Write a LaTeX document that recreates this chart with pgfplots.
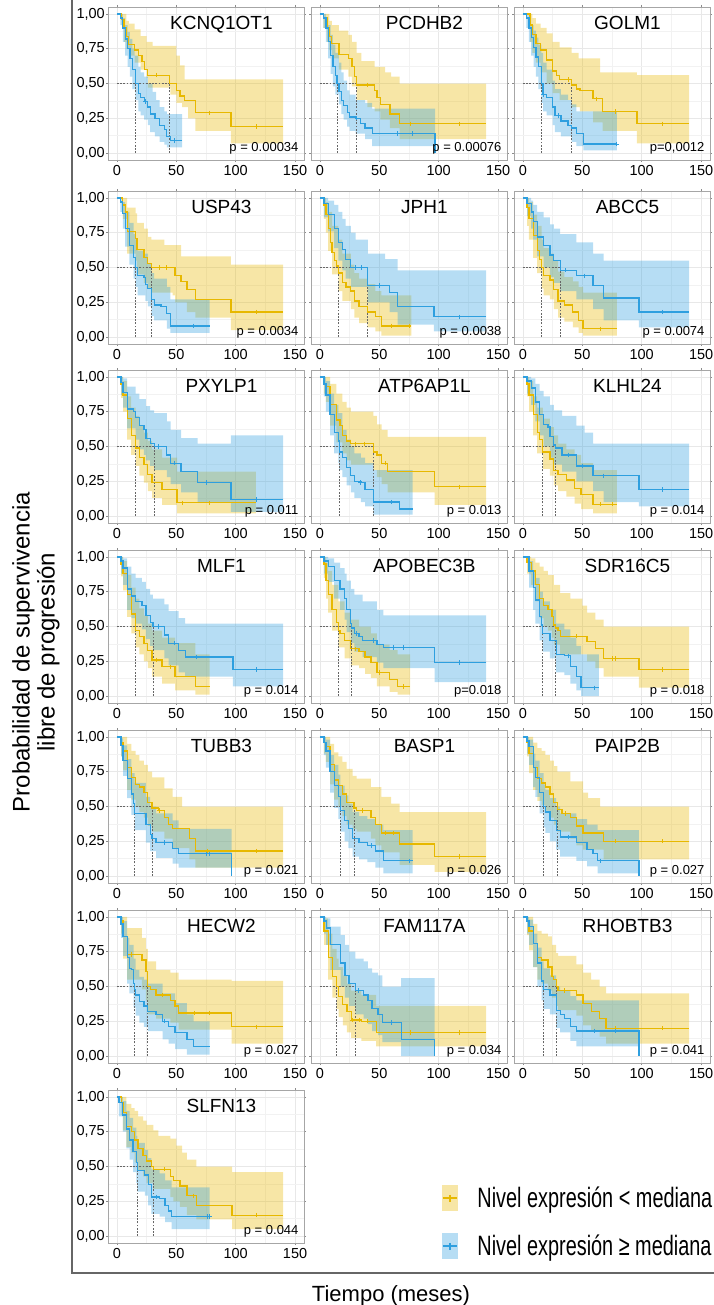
\documentclass[border=0pt]{standalone}
\usepackage{pgfplots}
\pgfplotsset{compat=1.18}
\usepackage{fontspec}
\setmainfont{Liberation Sans}
\newfontfamily\legfont{Liberation Sans}[FakeStretch=0.71]
\definecolor{ycol}{HTML}{E7B800}
\definecolor{bcol}{HTML}{2E9FDF}
\newcommand\ticksize{\fontsize{14.5bp}{16bp}\selectfont}
\newcommand\ttlsize{\fontsize{19bp}{22bp}\selectfont}
\newcommand\pvsize{\fontsize{13bp}{15bp}\selectfont}
\pgfplotsset{
 km/.style={scale only axis, width=196bp, height=153bp, anchor=north west,
  xmin=-7.5, xmax=157.5, ymin=-0.05, ymax=1.05,
  xtick={0,50,100,150}, xticklabels={0,50,100,150},
  ytick={0,0.25,0.5,0.75,1},
  minor xtick={25,75,125}, minor ytick={0.125,0.375,0.625,0.875},
  grid=both, major grid style={draw=black!9, line width=0.6bp},
  minor grid style={draw=black!5, line width=0.4bp},
  axis line style={draw=black!35, line width=0.8bp},
  tick align=outside, major tick length=2bp, minor tick length=0pt,
  tick style={draw=black!45, line width=0.6bp},
  tick label style={font=\ticksize},
  yticklabel style={inner sep=1bp},
  xticklabel style={inner sep=1bp, yshift=-2bp}},
 kml/.style={km, yticklabels={{0,00},{0,25},{0,50},{0,75},{1,00}}},
 kmn/.style={km, yticklabels={}},
 ycurve/.style={const plot, color=ycol, line width=1.3bp, forget plot},
 bcurve/.style={const plot, color=bcol, line width=1.3bp, forget plot},
 ymk/.style={only marks, mark=+, mark size=2.2bp, color=ycol, line width=0.7bp, forget plot},
 bmk/.style={only marks, mark=+, mark size=2.2bp, color=bcol, line width=0.7bp, forget plot},
 medl/.style={color=black!60, line width=0.6bp, dash pattern=on 1.8bp off 1.4bp, forget plot},
}
\makeatletter
% band: upper step list forward, lower step list backward, as one filled polygon
\newcommand\band[4]{%
  \gdef\km@poly{}\gdef\km@low{}%
  \km@up#3\km@end
  \km@lo#4\km@end
  \edef\km@tmp{\noexpand\addplot[fill=#2, fill opacity=0.35, draw=none, forget plot] coordinates {\km@poly\km@low};}%
  \km@tmp}
\def\km@up(#1,#2){\xdef\km@poly{\km@poly(#1,#2)}\gdef\km@py{#2}\km@uploop}
\def\km@uploop{\@ifnextchar(\km@upstep\km@stop}
\def\km@upstep(#1,#2){\xdef\km@poly{\km@poly(#1,\km@py)(#1,#2)}\gdef\km@py{#2}\km@uploop}
\def\km@stop\km@end{}
\def\km@lo(#1,#2){\xdef\km@low{(#1,#2)\km@low}\gdef\km@py{#2}\km@loloop}
\def\km@loloop{\@ifnextchar(\km@lostep\km@stop}
\def\km@lostep(#1,#2){\xdef\km@low{(#1,#2)(#1,\km@py)\km@low}\gdef\km@py{#2}\km@loloop}
\makeatother
\newcommand\med[2]{%
 \addplot[medl] coordinates {(0,0.5)(#2,0.5)};
 \addplot[medl] coordinates {(#1,0)(#1,0.5)};
 \addplot[medl] coordinates {(#2,0)(#2,0.5)};}
\newcommand\ttl[1]{\node[font=\ttlsize, anchor=base] at (axis cs:88,0.885) {#1};}
\newcommand\pv[1]{\node[font=\pvsize, anchor=base east, inner sep=0pt] at (axis cs:153,0.012) {#1};}
\begin{document}
\begin{tikzpicture}
\useasboundingbox (0,0) rectangle (714bp,-1305bp);
\draw[black!60, line width=1.5bp] (72bp,0) -- (72bp,-1273bp) -- (714bp,-1273bp);
\node[font=\fontsize{24bp}{25bp}\selectfont, rotate=90, align=center] at (36bp,-652bp) {Probabilidad de supervivencia\\libre de progresión};
\node[font=\fontsize{22bp}{24bp}\selectfont, anchor=base] at (391bp,-1301bp) {Tiempo (meses)};

% 1 KCNQ1OT1
\begin{axis}[kml, at={(108bp,-7bp)}]
\band{y}{ycol}{(0,1)(6,1)(8,0.95)(10,0.93)(15,0.89)(20,0.84)(25,0.8)(30,0.77)(50,0.7)(53,0.63)(57,0.53)(140,0.53)}{(0,1)(4,0.92)(6,0.8)(8,0.75)(10,0.7)(15,0.65)(20,0.6)(25,0.54)(26,0.47)(45,0.42)(50,0.36)(55,0.33)(60,0.25)(66,0.16)(96,0.07)(140,0.07)}
\band{b}{bcol}{(0,1)(5,0.97)(7,0.92)(9,0.87)(11,0.82)(13,0.75)(15,0.7)(18,0.62)(20,0.58)(23,0.55)(26,0.5)(30,0.44)(33,0.38)(36,0.33)(40,0.3)(42,0.28)(55,0.28)}{(0,1)(3,0.92)(5,0.8)(7,0.7)(9,0.62)(11,0.55)(13,0.46)(15.5,0.38)(18,0.3)(20,0.27)(23,0.24)(26,0.2)(28,0.15)(32,0.12)(36,0.08)(40,0.06)(42,0.04)(55,0.04)}
\med{15.5}{44.5}
\addplot[ycurve] coordinates {(0,1)(4,0.96)(6,0.9)(8,0.84)(10,0.78)(15,0.74)(18,0.7)(21,0.66)(23,0.6)(26,0.56)(44.5,0.5)(50,0.45)(53,0.41)(57,0.38)(66,0.29)(96,0.19)(140,0.19)};
\addplot[bcurve] coordinates {(0,1)(3,0.97)(5,0.9)(7,0.82)(9,0.75)(11,0.68)(13,0.6)(15.5,0.5)(18,0.43)(20,0.4)(23,0.37)(26,0.33)(28,0.28)(32,0.25)(36,0.2)(40,0.17)(42,0.12)(45,0.09)(55,0.09)};
\addplot[ymk] coordinates {(33,0.56)(78,0.29)(117,0.19)};
\addplot[bmk] coordinates {(24,0.37)(48,0.09)};
\ttl{KCNQ1OT1}\pv{p = 0.00034}
\end{axis}

% 2 PCDHB2
\begin{axis}[kmn, at={(311bp,-7bp)}]
\band{y}{ycol}{(0,1)(6,1)(8,0.95)(10,0.92)(16,0.88)(24,0.85)(27,0.8)(31,0.72)(35,0.66)(46,0.62)(55,0.58)(60,0.55)(67,0.5)(140,0.5)}{(0,1)(3,0.9)(6,0.8)(8,0.74)(10,0.68)(16,0.6)(24,0.55)(27,0.48)(31,0.38)(40,0.33)(46,0.3)(51,0.24)(59,0.18)(67,0.1)(140,0.1)}
\band{b}{bcol}{(0,1)(5,0.97)(7,0.92)(9,0.85)(11,0.78)(13,0.72)(16,0.65)(18,0.58)(20,0.52)(23,0.45)(25,0.42)(30,0.38)(38,0.36)(44,0.32)(97,0.32)}{(0,1)(3,0.9)(5,0.8)(7,0.68)(9,0.57)(11,0.48)(13,0.42)(16,0.35)(18,0.28)(20,0.24)(23,0.19)(25,0.16)(30,0.14)(38,0.1)(44,0.05)(97,0)}
\med{14.3}{31}
\addplot[ycurve] coordinates {(0,1)(3,0.97)(6,0.9)(8,0.84)(10,0.79)(16,0.71)(24,0.68)(27,0.62)(29,0.55)(31,0.49)(46,0.45)(48,0.4)(51,0.35)(59,0.28)(67,0.21)(140,0.21)};
\addplot[bcurve] coordinates {(0,1)(3,0.97)(5,0.9)(7,0.8)(9,0.7)(11,0.62)(13,0.56)(14.3,0.5)(16,0.44)(18,0.38)(20,0.34)(23,0.29)(25,0.26)(30,0.25)(34,0.21)(38,0.18)(44,0.14)(96,0.14)(97,0)};
\addplot[ymk] coordinates {(40,0.49)(76,0.21)(117,0.21)};
\addplot[bmk] coordinates {(31,0.25)(65,0.14)(78,0.14)};
\ttl{PCDHB2}\pv{p = 0.00076}
\end{axis}

% 3 GOLM1
\begin{axis}[kmn, at={(514bp,-7bp)}]
\band{y}{ycol}{(0,1)(8,0.97)(11,0.93)(15,0.9)(20,0.86)(25,0.8)(31,0.76)(41,0.72)(47,0.68)(65,0.58)(96,0.56)(140,0.56)}{(0,1)(6,0.8)(8,0.72)(11,0.65)(15,0.58)(20,0.5)(25,0.43)(31,0.38)(41,0.33)(48,0.3)(59,0.22)(67,0.16)(96,0.07)(140,0.07)}
\band{b}{bcol}{(0,1)(5,0.97)(7,0.92)(9,0.88)(11,0.83)(13,0.78)(15.6,0.72)(17,0.65)(20,0.6)(25,0.52)(27,0.46)(32,0.42)(38,0.38)(41,0.35)(45,0.3)(79,0.3)}{(0,1)(3,0.9)(5,0.8)(7,0.7)(9,0.62)(11,0.55)(13,0.46)(15.6,0.36)(17,0.3)(20,0.27)(25,0.2)(27,0.15)(32,0.12)(41,0.08)(45,0.05)(51,0.02)(79,0.02)}
\med{15.6}{41}
\addplot[ycurve] coordinates {(0,1)(5,1)(6,0.92)(8,0.85)(11,0.79)(15,0.74)(20,0.67)(25,0.59)(28,0.56)(31,0.53)(41,0.49)(45,0.46)(48,0.45)(59,0.39)(67,0.3)(96,0.21)(140,0.21)};
\addplot[bcurve] coordinates {(0,1)(3,0.97)(5,0.9)(7,0.83)(9,0.76)(11,0.69)(13,0.62)(15.6,0.5)(17,0.42)(20,0.4)(25,0.33)(27,0.27)(32,0.23)(38,0.2)(41,0.18)(45,0.14)(51,0.065)(79,0.065)};
\addplot[ymk] coordinates {(38,0.53)(62,0.39)(78,0.3)(117,0.21)};
\addplot[bmk] coordinates {(17,0.42)(30,0.27)(79,0.065)};
\ttl{GOLM1}\pv{p=0,0012}
\end{axis}

% 4 USP43
\begin{axis}[kml, at={(108bp,-191bp)}]
\band{y}{ycol}{(0,1)(7,1)(8.7,0.93)(15.7,0.89)(17,0.82)(22.7,0.78)(26,0.72)(29,0.7)(40,0.66)(54,0.58)(96,0.52)(140,0.52)}{(0,1)(5,0.85)(8.7,0.6)(15.7,0.55)(17,0.45)(22.7,0.39)(26,0.35)(29,0.32)(47,0.3)(49,0.25)(59,0.18)(66,0.14)(96,0.05)(140,0.05)}
\band{b}{bcol}{(0,1)(5,0.97)(7,0.9)(10.5,0.82)(14,0.74)(15.7,0.7)(17.4,0.62)(22.7,0.6)(26,0.53)(29,0.46)(31.4,0.42)(42,0.36)(45,0.27)(78,0.27)}{(0,1)(3,0.9)(5,0.78)(7,0.65)(10.5,0.52)(14,0.42)(15.7,0.36)(17.4,0.3)(24,0.26)(26,0.22)(29,0.15)(31.4,0.12)(42,0.06)(45,0.03)(78,0.03)}
\med{15.7}{29}
\addplot[ycurve] coordinates {(0,1)(5,0.95)(7,0.9)(8.7,0.76)(15.7,0.71)(17,0.63)(22.7,0.57)(26,0.53)(29,0.5)(47,0.5)(49,0.44)(54,0.4)(59,0.34)(66,0.27)(96,0.18)(140,0.18)};
\addplot[bcurve] coordinates {(0,1)(3,0.97)(5,0.89)(7,0.78)(10.5,0.66)(14,0.57)(15.7,0.5)(17.4,0.44)(22.7,0.43)(24,0.38)(26,0.35)(29,0.27)(31.4,0.23)(37,0.22)(42,0.17)(45,0.08)(78,0.08)};
\addplot[ymk] coordinates {(36,0.5)(42,0.5)(117,0.18)};
\addplot[bmk] coordinates {(64,0.08)};
\ttl{USP43}\pv{p = 0.0034}
\end{axis}

% 5 JPH1
\begin{axis}[kmn, at={(311bp,-191bp)}]
\band{y}{ycol}{(0,1)(5,0.97)(7,0.9)(10.3,0.8)(15.5,0.7)(19,0.6)(26,0.52)(29,0.46)(33,0.42)(40,0.38)(46.6,0.33)(51.7,0.3)(77,0.3)}{(0,1)(3.4,0.85)(5,0.75)(7,0.62)(10.3,0.45)(15.5,0.33)(19,0.26)(26,0.2)(29,0.14)(33,0.1)(40,0.07)(46.6,0.04)(51.7,0.01)(77,0.01)}
\band{b}{bcol}{(0,1)(7,0.98)(12,0.95)(15.5,0.9)(19,0.85)(21.7,0.8)(26,0.75)(30,0.7)(40.3,0.6)(55,0.56)(65.5,0.48)(140,0.48)}{(0,1)(3.4,0.86)(7,0.76)(12,0.64)(15.5,0.55)(19,0.48)(21.7,0.42)(26,0.36)(40.3,0.25)(58.6,0.18)(65.5,0.09)(96,0.04)(140,0.04)}
\med{15.5}{40.3}
\addplot[ycurve] coordinates {(0,1)(3.4,0.95)(5,0.88)(7,0.78)(9,0.68)(10.3,0.61)(12,0.55)(14,0.51)(15.5,0.46)(19,0.39)(22,0.36)(26,0.33)(29,0.26)(33,0.22)(40,0.18)(46.6,0.15)(51.7,0.08)(77,0.08)};
\addplot[bcurve] coordinates {(0,1)(3.4,0.96)(7,0.88)(12,0.78)(15.5,0.68)(19,0.63)(21.7,0.56)(26,0.5)(40.3,0.37)(58.6,0.32)(65.5,0.22)(96,0.146)(140,0.146)};
\addplot[ymk] coordinates {(60,0.08)(75,0.08)};
\addplot[bmk] coordinates {(30,0.5)(35,0.5)(50,0.37)(117,0.146)};
\ttl{JPH1}\pv{p = 0.0038}
\end{axis}

% 6 ABCC5
\begin{axis}[kmn, at={(514bp,-191bp)}]
\band{y}{ycol}{(0,1)(5,0.97)(8.7,0.88)(12,0.8)(15.7,0.7)(17.4,0.64)(22.7,0.6)(26,0.55)(29.6,0.47)(35,0.43)(42,0.4)(47,0.36)(50.6,0.32)(79,0.32)}{(0,1)(3.5,0.8)(5,0.7)(8.7,0.57)(12,0.46)(15.7,0.35)(17.4,0.3)(22.7,0.27)(26,0.2)(29.6,0.14)(35,0.11)(42,0.07)(47,0.03)(50.6,0.01)(79,0.01)}
\band{b}{bcol}{(0,1)(7,0.98)(8.7,0.95)(12,0.9)(17.4,0.86)(22.7,0.81)(26,0.78)(31.4,0.74)(45,0.68)(59,0.6)(68,0.55)(140,0.55)}{(0,1)(3.5,0.87)(7,0.78)(8.7,0.7)(12,0.58)(17.4,0.5)(22.7,0.43)(26,0.39)(31.4,0.33)(45,0.27)(59,0.2)(68,0.12)(97.7,0.07)(140,0.07)}
\med{15.7}{31.4}
\addplot[ycurve] coordinates {(0,1)(3.5,0.93)(5,0.85)(8.7,0.73)(12,0.62)(14,0.56)(15.7,0.5)(17.4,0.44)(22.7,0.41)(26,0.34)(29.6,0.26)(35,0.23)(42,0.18)(47,0.12)(50.6,0.06)(79,0.06)};
\addplot[bcurve] coordinates {(0,1)(3.5,0.96)(7,0.9)(8.7,0.83)(12,0.72)(17.4,0.66)(22.7,0.59)(26,0.55)(31.4,0.48)(45,0.44)(59,0.37)(68,0.28)(97.7,0.18)(140,0.18)};
\addplot[ymk] coordinates {(65,0.06)};
\addplot[bmk] coordinates {(36,0.48)(52,0.44)(117,0.18)};
\ttl{ABCC5}\pv{p = 0.0074}
\end{axis}

% 7 PXYLP1
\begin{axis}[kml, at={(108bp,-370bp)}]
\band{y}{ycol}{(0,1)(5.2,0.97)(8.7,0.86)(12,0.78)(15.7,0.72)(19,0.65)(22.7,0.6)(26,0.54)(29.6,0.48)(38,0.42)(50.6,0.32)(117,0.32)}{(0,1)(3.5,0.85)(5.2,0.75)(8.7,0.55)(12,0.44)(15.7,0.36)(19,0.29)(22.7,0.24)(26,0.18)(29.6,0.13)(38,0.08)(50.6,0.02)(117,0.02)}
\band{b}{bcol}{(0,1)(5.2,0.99)(8.7,0.93)(15.7,0.88)(19,0.84)(24.4,0.79)(28,0.76)(31.4,0.74)(42,0.68)(45.3,0.62)(54,0.56)(68,0.52)(96,0.58)(140,0.58)}{(0,1)(3.5,0.87)(5.2,0.78)(8.7,0.63)(15.7,0.55)(19,0.48)(22.7,0.44)(24.4,0.4)(28,0.36)(31.4,0.33)(42,0.28)(45.3,0.23)(54,0.17)(68,0.1)(96,0.03)(140,0.03)}
\med{15.7}{31.4}
\addplot[ycurve] coordinates {(0,1)(3.5,0.95)(5.2,0.87)(8.7,0.7)(12,0.58)(15.7,0.49)(19,0.42)(22.7,0.37)(26,0.3)(29.6,0.24)(38,0.19)(50.6,0.095)(117,0.095)};
\addplot[bcurve] coordinates {(0,1)(3.5,0.96)(5.2,0.89)(8.7,0.77)(14,0.75)(15.7,0.71)(19,0.65)(22.7,0.62)(24.4,0.56)(28,0.52)(31.4,0.5)(42,0.44)(45.3,0.38)(54,0.32)(68,0.24)(96,0.12)(140,0.12)};
\addplot[ymk] coordinates {(55,0.095)(78,0.095)};
\addplot[bmk] coordinates {(35,0.5)(48,0.38)(75,0.24)(117,0.12)};
\ttl{PXYLP1}\pv{p = 0.011}
\end{axis}

% 8 ATP6AP1L
\begin{axis}[kmn, at={(311bp,-370bp)}]
\band{y}{ycol}{(0,1)(5,1)(8.6,0.95)(13.8,0.88)(19,0.82)(22.4,0.78)(26,0.75)(45,0.72)(48,0.66)(52,0.62)(57,0.57)(140,0.57)}{(0,1)(3.4,0.88)(5,0.82)(8.6,0.65)(13.8,0.53)(19,0.45)(22.4,0.4)(26,0.37)(45,0.33)(48,0.28)(52,0.23)(57,0.17)(96.5,0.08)(140,0.08)}
\band{b}{bcol}{(0,1)(5,0.97)(8.6,0.88)(12,0.8)(15.5,0.74)(19,0.62)(22.4,0.55)(26,0.5)(29,0.45)(34.5,0.42)(38,0.38)(45,0.33)(78,0.33)}{(0,1)(3.4,0.86)(5,0.75)(8.6,0.58)(12,0.45)(15.5,0.38)(16.2,0.33)(19,0.28)(22.4,0.22)(26,0.17)(29,0.13)(34.5,0.1)(38,0.07)(45,0.01)(78,0.01)}
\med{16.2}{45}
\addplot[ycurve] coordinates {(0,1)(3.4,0.95)(5,0.93)(8.6,0.8)(13.8,0.69)(17,0.65)(19,0.58)(22.4,0.54)(26,0.52)(45,0.46)(48,0.44)(52,0.38)(57,0.32)(96.5,0.21)(140,0.21)};
\addplot[bcurve] coordinates {(0,1)(3.4,0.95)(5,0.87)(8.6,0.73)(12,0.6)(15.5,0.54)(16.2,0.46)(19,0.42)(22.4,0.35)(26,0.29)(29,0.25)(34.5,0.24)(38,0.19)(45,0.1)(67,0.05)(78,0.05)};
\addplot[ymk] coordinates {(30,0.52)(37,0.52)(55,0.38)(117,0.21)};
\addplot[bmk] coordinates {(34,0.24)(60,0.1)};
\ttl{ATP6AP1L}\pv{p = 0.013}
\end{axis}

% 9 KLHL24
\begin{axis}[kmn, at={(514bp,-370bp)}]
\band{y}{ycol}{(0,1)(5.2,0.97)(8.7,0.86)(12,0.78)(16.7,0.7)(22.7,0.64)(26,0.58)(29.6,0.52)(36.6,0.48)(43.6,0.44)(49,0.38)(59,0.33)(79,0.33)}{(0,1)(3.5,0.86)(5.2,0.75)(8.7,0.58)(12,0.45)(16.7,0.34)(22.7,0.29)(26,0.22)(29.6,0.18)(36.6,0.14)(43.6,0.09)(49,0.05)(59,0.02)(79,0.02)}
\band{b}{bcol}{(0,1)(7,0.99)(10.5,0.95)(14,0.9)(17.4,0.86)(22.7,0.8)(26,0.76)(33,0.72)(45,0.65)(52,0.6)(59,0.52)(140,0.52)}{(0,1)(3.5,0.88)(7,0.8)(10.5,0.68)(14,0.58)(17.4,0.5)(22.7,0.42)(26,0.37)(33,0.32)(45,0.25)(59,0.18)(68,0.1)(97.7,0.07)(140,0.07)}
\med{16.7}{27.2}
\addplot[ycurve] coordinates {(0,1)(3.5,0.95)(5.2,0.87)(8.7,0.73)(12,0.6)(14,0.55)(16.7,0.46)(22.7,0.41)(26,0.33)(29.6,0.3)(36.6,0.26)(43.6,0.2)(49,0.155)(59,0.085)(79,0.085)};
\addplot[bcurve] coordinates {(0,1)(3.5,0.97)(7,0.92)(10.5,0.82)(14,0.73)(17.4,0.66)(21,0.64)(22.7,0.57)(26,0.51)(27.2,0.49)(33,0.44)(45,0.36)(59,0.29)(97.7,0.19)(140,0.19)};
\addplot[ymk] coordinates {(65,0.085)(75,0.085)};
\addplot[bmk] coordinates {(38,0.44)(50,0.36)(68,0.29)(117,0.19)};
\ttl{KLHL24}\pv{p = 0.014}
\end{axis}

% 10 MLF1
\begin{axis}[kml, at={(108bp,-550bp)}]
\band{y}{ycol}{(0,1)(5.2,0.97)(8.7,0.87)(12.2,0.78)(15.7,0.7)(19,0.63)(22.7,0.58)(26,0.52)(29.6,0.47)(38,0.42)(49,0.38)(66,0.3)(78,0.3)}{(0,1)(3.5,0.86)(5.2,0.76)(8.7,0.57)(12.2,0.45)(15.7,0.35)(19,0.3)(22.7,0.25)(26,0.2)(29.6,0.14)(38,0.09)(49,0.04)(66,0.01)(78,0.01)}
\band{b}{bcol}{(0,1)(5.2,0.99)(8.7,0.93)(12.2,0.88)(15.7,0.85)(21,0.82)(24.4,0.77)(28,0.73)(30.3,0.7)(40,0.66)(43.6,0.61)(52,0.56)(57.5,0.52)(140,0.52)}{(0,1)(3.5,0.88)(5.2,0.8)(8.7,0.62)(12.2,0.56)(15.7,0.52)(21,0.48)(24.4,0.41)(28,0.36)(30.3,0.33)(40,0.27)(43.6,0.22)(52,0.17)(57.5,0.14)(97.7,0.07)(140,0.07)}
\med{15.7}{30.3}
\addplot[ycurve] coordinates {(0,1)(3.5,0.95)(5.2,0.88)(8.7,0.73)(12.2,0.59)(15.7,0.47)(19,0.43)(22.7,0.38)(26,0.33)(29.6,0.26)(38,0.21)(49,0.14)(66,0.07)(78,0.07)};
\addplot[bcurve] coordinates {(0,1)(3.5,0.97)(5.2,0.92)(8.7,0.77)(12.2,0.72)(15.7,0.68)(21,0.65)(24.4,0.58)(28,0.53)(30.3,0.5)(40,0.44)(43.6,0.38)(52,0.33)(57.5,0.28)(97.7,0.19)(140,0.19)};
\addplot[ymk] coordinates {(33,0.26)(45,0.21)};
\addplot[bmk] coordinates {(35,0.5)(48,0.38)(67,0.28)(117,0.19)};
\ttl{MLF1}\pv{p = 0.014}
\end{axis}

% 11 APOBEC3B
\begin{axis}[kmn, at={(311bp,-550bp)}]
\band{y}{ycol}{(0,1)(5.2,0.96)(7,0.9)(10.3,0.8)(15.5,0.68)(20.7,0.6)(26,0.55)(33,0.5)(43,0.45)(48,0.37)(58.6,0.33)(65.5,0.3)(76,0.3)}{(0,1)(3.4,0.85)(5.2,0.7)(7,0.6)(10.3,0.47)(15.5,0.35)(20.7,0.27)(26,0.22)(33,0.2)(38,0.16)(43,0.13)(48,0.07)(58.6,0.03)(65.5,0.01)(76,0.01)}
\band{b}{bcol}{(0,1)(7,0.99)(12,0.96)(17,0.92)(20.7,0.88)(22.4,0.83)(26,0.77)(29,0.73)(36,0.68)(48,0.62)(53.4,0.58)(140,0.58)}{(0,1)(3.4,0.88)(7,0.82)(12,0.7)(17,0.62)(20.7,0.55)(22.4,0.46)(26,0.38)(29,0.32)(36,0.28)(48,0.24)(53.4,0.2)(96.5,0.1)(140,0.1)}
\med{15.5}{26.6}
\addplot[ycurve] coordinates {(0,1)(3.4,0.95)(5.2,0.83)(7,0.73)(10.3,0.62)(13.8,0.53)(15.5,0.47)(17,0.45)(20.7,0.4)(26,0.34)(33,0.32)(38,0.28)(43,0.24)(48,0.17)(58.6,0.12)(65.5,0.07)(76,0.07)};
\addplot[bcurve] coordinates {(0,1)(3.4,0.97)(7,0.93)(12,0.83)(17,0.77)(20.7,0.7)(22.4,0.62)(26,0.52)(26.6,0.49)(29,0.45)(33,0.43)(36,0.4)(48,0.37)(53.4,0.35)(96.5,0.24)(140,0.24)};
\addplot[ymk] coordinates {(30,0.34)(50,0.17)(70,0.07)};
\addplot[bmk] coordinates {(31,0.45)(45,0.4)(62,0.35)(70,0.35)(117,0.24)};
\ttl{APOBEC3B}\pv{p=0.018}
\end{axis}

% 12 SDR16C5
\begin{axis}[kmn, at={(514bp,-550bp)}]
\band{y}{ycol}{(0,1)(7,0.99)(10.5,0.96)(14,0.93)(17.4,0.9)(21,0.87)(26,0.8)(31.4,0.74)(40,0.7)(50,0.65)(54,0.6)(61,0.55)(68,0.5)(140,0.5)}{(0,1)(3.5,0.88)(7,0.8)(10.5,0.68)(14,0.56)(17.4,0.5)(21,0.47)(24.4,0.42)(26,0.37)(31.4,0.3)(54,0.25)(61,0.2)(68,0.14)(97.7,0.06)(140,0.06)}
\band{b}{bcol}{(0,1)(5.2,0.97)(8.7,0.9)(10.5,0.85)(14,0.75)(16.7,0.68)(22.7,0.62)(28,0.52)(35,0.48)(40,0.42)(45,0.36)(49,0.3)(64,0.3)}{(0,1)(5.2,0.78)(8.7,0.62)(10.5,0.52)(14,0.4)(16.7,0.32)(22.7,0.27)(28,0.17)(35,0.15)(40,0.09)(45,0.04)(49,0)(64,0)}
\med{16.7}{27.2}
\addplot[ycurve] coordinates {(0,1)(3.5,0.96)(7,0.9)(10.5,0.8)(14,0.7)(17.4,0.65)(21,0.62)(24.4,0.57)(26,0.51)(27.2,0.49)(29.6,0.47)(31.4,0.43)(54,0.39)(61,0.34)(68,0.27)(97.7,0.19)(140,0.19)};
\addplot[bcurve] coordinates {(0,1)(5.2,0.9)(8.7,0.78)(10.5,0.69)(14,0.57)(15.7,0.51)(16.7,0.45)(22.7,0.4)(28,0.3)(35,0.29)(40,0.21)(45,0.14)(49,0.06)(64,0.06)};
\addplot[ymk] coordinates {(45,0.43)(75,0.27)(78,0.27)(117,0.19)};
\addplot[bmk] coordinates {(38,0.29)(60,0.06)};
\ttl{SDR16C5}\pv{p = 0.018}
\end{axis}

% 13 TUBB3
\begin{axis}[kml, at={(108bp,-730bp)}]
\band{y}{ycol}{(0,1)(5.2,1)(8.7,0.95)(12.2,0.9)(15.7,0.87)(19,0.83)(22.7,0.8)(26,0.75)(29.6,0.71)(40,0.63)(47,0.57)(55,0.5)(140,0.5)}{(0,1)(3.5,0.86)(5.2,0.76)(8.7,0.62)(12.2,0.55)(15.7,0.5)(19,0.46)(22.7,0.42)(26,0.36)(29.6,0.32)(40,0.27)(47,0.2)(61,0.12)(66,0.06)(140,0.06)}
\band{b}{bcol}{(0,1)(3.5,0.99)(5.2,0.94)(8.7,0.84)(12.2,0.74)(15,0.67)(24.4,0.57)(28,0.5)(33,0.45)(47,0.4)(52,0.34)(96.5,0.34)}{(0,1)(3.5,0.86)(5.2,0.72)(8.7,0.56)(12.2,0.44)(15,0.33)(24.4,0.24)(28,0.18)(33,0.13)(47,0.09)(52,0.06)(96,0.05)(96.5,0)}
\med{15}{29.6}
\addplot[ycurve] coordinates {(0,1)(3.5,0.96)(5.2,0.9)(8.7,0.78)(12.2,0.71)(15.7,0.66)(19,0.64)(22.7,0.6)(26,0.53)(29.6,0.49)(35,0.47)(40,0.42)(43.6,0.37)(47,0.34)(61,0.27)(66,0.18)(140,0.18)};
\addplot[bcurve] coordinates {(0,1)(3.5,0.94)(5.2,0.83)(8.7,0.7)(12.2,0.59)(14,0.52)(15,0.45)(24.4,0.37)(28,0.3)(29.6,0.27)(33,0.24)(47,0.2)(52,0.16)(96,0.16)(96.5,0)};
\addplot[ymk] coordinates {(36,0.47)(76,0.18)(117,0.18)};
\addplot[bmk] coordinates {(40,0.24)(75,0.16)(78,0.16)};
\ttl{TUBB3}\pv{p = 0.021}
\end{axis}

% 14 BASP1
\begin{axis}[kmn, at={(311bp,-730bp)}]
\band{y}{ycol}{(0,1)(5,1)(8.6,0.95)(12,0.89)(15.5,0.86)(19,0.82)(22.4,0.77)(27.6,0.72)(31,0.7)(43,0.64)(51.7,0.57)(60,0.52)(67,0.46)(140,0.46)}{(0,1)(3.4,0.88)(5,0.82)(8.6,0.66)(12,0.55)(15.5,0.5)(19,0.43)(22.4,0.37)(27.6,0.34)(31,0.32)(43,0.27)(46.6,0.22)(51.7,0.17)(67,0.08)(96.5,0.03)(140,0.03)}
\band{b}{bcol}{(0,1)(5,0.98)(8.6,0.87)(12,0.8)(15.5,0.73)(17.2,0.65)(20.7,0.58)(24,0.52)(27.6,0.46)(33,0.43)(40,0.41)(46.6,0.37)(53.4,0.33)(78,0.33)}{(0,1)(3.4,0.87)(5,0.78)(8.6,0.6)(12,0.49)(15.5,0.41)(17.2,0.32)(20.7,0.25)(24,0.2)(27.6,0.14)(33,0.12)(40,0.1)(46.6,0.06)(53.4,0.02)(78,0.02)}
\med{17.2}{28.6}
\addplot[ycurve] coordinates {(0,1)(3.4,0.96)(5,0.93)(8.6,0.8)(12,0.69)(15.5,0.65)(19,0.59)(22.4,0.53)(28.6,0.49)(31,0.47)(43,0.42)(46.6,0.37)(51.7,0.31)(67,0.23)(96.5,0.14)(140,0.14)};
\addplot[bcurve] coordinates {(0,1)(3.4,0.96)(5,0.9)(8.6,0.75)(12,0.65)(15.5,0.57)(17.2,0.47)(20.7,0.4)(24,0.34)(27.6,0.27)(33,0.24)(40,0.22)(46.6,0.18)(53.4,0.11)(78,0.11)};
\addplot[ymk] coordinates {(36,0.47)(55,0.31)(62,0.31)(117,0.14)};
\addplot[bmk] coordinates {(43,0.22)(75,0.11)};
\ttl{BASP1}\pv{p = 0.026}
\end{axis}

% 15 PAIP2B
\begin{axis}[kmn, at={(514bp,-730bp)}]
\band{y}{ycol}{(0,1)(5.2,1)(8.7,0.96)(12.2,0.92)(15.7,0.9)(19,0.87)(22.7,0.83)(26,0.79)(29,0.75)(40,0.68)(50.6,0.6)(55,0.56)(65,0.5)(140,0.5)}{(0,1)(3.5,0.86)(5.2,0.74)(8.7,0.62)(12.2,0.54)(15.7,0.51)(19,0.47)(22.7,0.42)(26,0.37)(29,0.32)(40,0.27)(45,0.22)(50.6,0.19)(68,0.12)(140,0.12)}
\band{b}{bcol}{(0,1)(5.2,0.98)(8.7,0.88)(10.5,0.83)(14,0.74)(17.4,0.66)(19,0.62)(22.7,0.56)(28,0.5)(31.4,0.45)(45,0.41)(54,0.37)(62.8,0.33)(97.7,0.33)}{(0,1)(3.5,0.88)(5.2,0.8)(8.7,0.64)(10.5,0.57)(14,0.45)(17.4,0.35)(19,0.31)(22.7,0.25)(28,0.19)(31.4,0.14)(45,0.11)(54,0.07)(62.8,0.02)(97.7,0)}
\med{17.4}{29}
\addplot[ycurve] coordinates {(0,1)(3.5,0.96)(5.2,0.88)(8.7,0.78)(12.2,0.7)(15.7,0.67)(19,0.64)(22.7,0.59)(26,0.53)(29,0.48)(33,0.45)(40,0.42)(45,0.36)(50.6,0.31)(68,0.25)(140,0.25)};
\addplot[bcurve] coordinates {(0,1)(3.5,0.97)(5.2,0.93)(8.7,0.78)(10.5,0.71)(14,0.6)(17.4,0.5)(19,0.46)(22.7,0.4)(28,0.33)(31.4,0.28)(45,0.24)(54,0.19)(59,0.16)(62.8,0.11)(97.5,0.11)(97.7,0)};
\addplot[ymk] coordinates {(36,0.45)(78,0.25)(117,0.25)};
\addplot[bmk] coordinates {(38,0.28)(65,0.11)};
\ttl{PAIP2B}\pv{p = 0.027}
\end{axis}

% 16 HECW2
\begin{axis}[kml, at={(108bp,-910bp)}]
\band{y}{ycol}{(0,1)(5.2,1)(8.7,0.92)(21,0.85)(24.4,0.77)(26,0.68)(33,0.62)(45,0.6)(52,0.55)(96.6,0.54)(140,0.54)}{(0,1)(3.5,0.88)(5.2,0.7)(8.7,0.55)(21,0.48)(24.4,0.4)(26,0.3)(33,0.27)(45,0.24)(52,0.19)(96.6,0.09)(140,0.09)}
\band{b}{bcol}{(0,1)(5.2,0.97)(8.7,0.85)(10.5,0.8)(14,0.7)(15.7,0.62)(19,0.57)(22.7,0.55)(26,0.52)(38.4,0.45)(49,0.38)(59,0.3)(64.5,0.25)(78,0.25)}{(0,1)(3.5,0.85)(5.2,0.72)(8.7,0.52)(10.5,0.45)(14,0.35)(15.7,0.29)(19,0.24)(22.7,0.21)(26,0.18)(38.4,0.12)(43.6,0.09)(49,0.05)(59,0.01)(78,0.01)}
\med{14.6}{26}
\addplot[ycurve] coordinates {(0,1)(3.5,0.97)(5.2,0.86)(8.7,0.73)(21,0.69)(24.4,0.61)(26,0.5)(28,0.48)(33,0.44)(45,0.4)(49,0.36)(52,0.31)(96.6,0.21)(140,0.21)};
\addplot[bcurve] coordinates {(0,1)(3.5,0.95)(5.2,0.86)(8.7,0.71)(10.5,0.63)(12.2,0.62)(14,0.52)(14.6,0.48)(15.7,0.44)(19,0.39)(22.7,0.36)(26,0.32)(33,0.3)(38.4,0.25)(43.6,0.21)(49,0.17)(59,0.12)(64.5,0.07)(78,0.07)};
\addplot[ymk] coordinates {(12,0.73)(38,0.44)(65,0.31)(78,0.31)(117,0.21)};
\addplot[bmk] coordinates {(40,0.25)};
\ttl{HECW2}\pv{p = 0.027}
\end{axis}

% 17 FAM117A
\begin{axis}[kmn, at={(311bp,-910bp)}]
\band{y}{ycol}{(0,1)(3.5,0.99)(7,0.88)(10.5,0.77)(14,0.7)(15.8,0.64)(19.3,0.58)(22.8,0.52)(26.3,0.47)(35,0.44)(47.4,0.36)(140,0.36)}{(0,1)(3.5,0.8)(7,0.55)(10.5,0.42)(14,0.34)(15.8,0.28)(19.3,0.22)(22.8,0.17)(26.3,0.13)(35,0.11)(47.4,0.07)(140,0.07)}
\band{b}{bcol}{(0,1)(5.3,0.99)(8.8,0.93)(17.5,0.87)(21,0.8)(24.6,0.75)(29.8,0.7)(36.8,0.68)(40.4,0.63)(43.9,0.6)(49,0.58)(52.6,0.5)(68.4,0.56)(96.6,0.56)}{(0,1)(3.5,0.88)(5.3,0.8)(8.8,0.62)(17.5,0.5)(21,0.42)(24.6,0.36)(29.8,0.3)(36.8,0.27)(40.4,0.23)(43.9,0.18)(49,0.15)(52.6,0.1)(68.4,0)(96.6,0)}
\med{14}{29.8}
\addplot[ycurve] coordinates {(0,1)(3.5,0.9)(7,0.71)(10.5,0.57)(14,0.5)(15.8,0.43)(19.3,0.37)(22.8,0.32)(26.3,0.26)(35,0.25)(47.4,0.17)(140,0.17)};
\addplot[bcurve] coordinates {(0,1)(3.5,0.97)(5.3,0.92)(8.8,0.8)(17.5,0.67)(21,0.58)(24.6,0.52)(29.8,0.47)(36.8,0.44)(40.4,0.4)(43.9,0.34)(49,0.3)(52.6,0.24)(68.4,0.12)(96.5,0.12)(96.6,0)};
\addplot[ymk] coordinates {(27,0.26)(33,0.26)(40,0.25)(76,0.17)(117,0.17)};
\addplot[bmk] coordinates {(32,0.47)(60,0.24)};
\ttl{FAM117A}\pv{p = 0.034}
\end{axis}

% 18 RHOBTB3
\begin{axis}[kmn, at={(514bp,-910bp)}]
\band{y}{ycol}{(0,1)(5.2,1)(8.7,0.95)(12.2,0.9)(15.7,0.88)(21,0.86)(24.4,0.8)(28,0.74)(29.6,0.72)(45,0.66)(50.6,0.6)(57.5,0.55)(64.5,0.5)(70,0.45)(140,0.45)}{(0,1)(3.5,0.87)(5.2,0.76)(8.7,0.64)(12.2,0.55)(15.7,0.52)(21,0.47)(24.4,0.42)(28,0.36)(29.6,0.33)(45,0.29)(50.6,0.22)(57.5,0.18)(64.5,0.14)(70,0.09)(140,0.09)}
\band{b}{bcol}{(0,1)(5.2,0.98)(8.7,0.88)(12.2,0.78)(15.7,0.68)(17.4,0.63)(22.7,0.58)(28,0.5)(31.4,0.47)(40,0.43)(45,0.4)(97.7,0.4)}{(0,1)(3.5,0.88)(5.2,0.8)(8.7,0.64)(12.2,0.5)(15.7,0.4)(17.4,0.34)(22.7,0.3)(28,0.2)(31.4,0.17)(40,0.11)(45,0.07)(97.7,0)}
\med{17.4}{28}
\addplot[ycurve] coordinates {(0,1)(3.5,0.97)(5.2,0.9)(8.7,0.81)(12.2,0.71)(15.7,0.69)(21,0.64)(24.4,0.57)(26,0.55)(28,0.5)(29.6,0.47)(45,0.44)(50.6,0.38)(57.5,0.32)(64.5,0.27)(70,0.2)(140,0.2)};
\addplot[bcurve] coordinates {(0,1)(3.5,0.97)(5.2,0.93)(8.7,0.81)(12.2,0.67)(15.7,0.54)(17.4,0.48)(22.7,0.44)(28,0.33)(31.4,0.3)(35,0.27)(40,0.21)(45,0.18)(97.5,0.18)(97.7,0)};
\addplot[ymk] coordinates {(35,0.47)(78,0.2)(117,0.2)};
\addplot[bmk] coordinates {(60,0.18)(78,0.18)};
\ttl{RHOBTB3}\pv{p = 0.041}
\end{axis}

% 19 SLFN13 + legend
\begin{axis}[kml, at={(108bp,-1090bp)},
  legend style={at={(axis description cs:1.7026,0.379)}, anchor=north west, draw=none, fill=none,
    font=\legfont\fontsize{28bp}{30bp}\selectfont, row sep=22bp, inner sep=0pt,
    nodes={inner sep=0pt}, cells={anchor=west},
    /tikz/every odd column/.style={column sep=19.5bp}},
  legend image code/.code={%
    \fill[draw=none, fill opacity=0.35] (0bp,-13bp) rectangle (16bp,13bp);
    \draw[fill=none, line width=1.6bp] (1bp,0bp) -- (15bp,0bp);
    \draw[fill=none, line width=1.2bp] (8bp,-3.5bp) -- (8bp,3.5bp);}]
\band{y}{ycol}{(0,1)(5.1,1)(7.9,0.95)(12.2,0.92)(15,0.9)(17.8,0.86)(22,0.83)(25,0.8)(30.6,0.76)(35,0.72)(45,0.7)(50,0.65)(55,0.6)(59,0.55)(67,0.5)(97,0.46)(140,0.46)}{(0,1)(3.7,0.87)(5.1,0.76)(7.9,0.64)(12.2,0.6)(15,0.53)(17.8,0.47)(22,0.43)(25,0.38)(30.6,0.34)(45,0.28)(47.5,0.25)(53,0.21)(59,0.15)(67,0.12)(97,0.05)(140,0.05)}
\band{b}{bcol}{(0,1)(5,0.97)(8,0.9)(10.8,0.85)(13.6,0.78)(16.4,0.72)(17.3,0.67)(23.5,0.62)(26.3,0.56)(29,0.48)(36,0.45)(40.5,0.4)(46,0.35)(78,0.35)}{(0,1)(1.7,0.86)(5,0.75)(8,0.63)(10.8,0.55)(13.6,0.46)(16.4,0.38)(17.3,0.32)(23.5,0.29)(26.3,0.22)(29,0.16)(36,0.14)(40.5,0.1)(46,0.05)(78,0.05)}
\med{17.3}{30.6}
\addplot[ycurve] coordinates {(0,1)(3.7,0.96)(5.1,0.89)(7.9,0.79)(12.2,0.75)(15,0.69)(17.8,0.63)(22,0.58)(25,0.54)(29,0.5)(30.6,0.48)(45,0.43)(47.5,0.4)(53,0.36)(59,0.29)(67,0.22)(97,0.15)(140,0.15)};
\addplot[bcurve] coordinates {(0,1)(1.7,0.96)(5,0.87)(8,0.77)(10.8,0.69)(13.6,0.61)(16.4,0.53)(17.3,0.47)(23.5,0.44)(26.3,0.37)(29,0.28)(36,0.27)(40.5,0.22)(43.3,0.18)(46,0.14)(78,0.14)};
\addplot[ymk] coordinates {(40,0.48)(64,0.29)(117,0.15)};
\addplot[bmk] coordinates {(33,0.28)(76,0.14)(78,0.14)};
\ttl{SLFN13}\pv{p = 0.044}
\addlegendimage{color=ycol}
\addlegendentry{Nivel expresión < mediana}
\addlegendimage{color=bcol}
\addlegendentry{Nivel expresión ≥ mediana}
\end{axis}
\end{tikzpicture}
\end{document}
